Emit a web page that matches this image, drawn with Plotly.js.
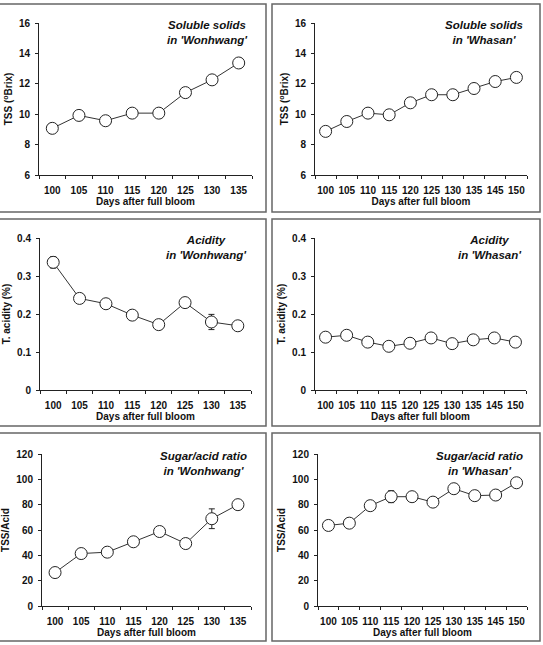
<!DOCTYPE html>
<html>
<head>
<meta charset="utf-8">
<script src="https://cdn.plot.ly/plotly-3.0.1.min.js"></script>
<style>html,body{margin:0;padding:0;background:#fff;}#chart{width:543px;height:645px;}</style>
</head>
<body>
<div id="chart"></div>
<script>
// ---- Data ----
const daysWon = ['100','105','110','115','120','125','130','135'];
const daysWha = ['100','105','110','115','120','125','130','135','145','150'];

const tssWon = [9.07, 9.92, 9.57, 10.07, 10.07, 11.42, 12.26, 13.37];
const tssWonErr = [0, 0, 0, 0, 0, 0.18, 0, 0];
const tssWha = [8.87, 9.52, 10.07, 9.96, 10.75, 11.28, 11.28, 11.69, 12.15, 12.42];
const tssWhaErr = [0, 0, 0, 0, 0, 0, 0, 0, 0, 0];

const acidWon = [0.336, 0.241, 0.227, 0.197, 0.172, 0.230, 0.179, 0.169];
const acidWonErr = [0.015, 0, 0, 0, 0, 0, 0.02, 0];
const acidWha = [0.139, 0.144, 0.126, 0.115, 0.123, 0.137, 0.122, 0.132, 0.137, 0.126];
const acidWhaErr = [0, 0, 0, 0, 0, 0, 0, 0, 0, 0];

const ratioWon = [26.4, 41.4, 42.5, 50.7, 58.8, 49.3, 68.9, 80.0];
const ratioWonErr = [0, 0, 0, 0, 0, 0, 7.8, 0];
const ratioWha = [63.6, 65.4, 79.2, 86.3, 86.3, 82.0, 92.6, 87.1, 87.6, 97.3];
const ratioWhaErr = [3.5, 0, 0, 4.7, 0, 0, 0, 0, 0, 0];

const xTitle = 'Days after full bloom';
const yTitles = ['TSS (<sup>o</sup>Brix)', 'TSS (<sup>o</sup>Brix)', 'T. acidity (%)', 'T. acidity (%)', 'TSS/Acid', 'TSS/Acid'];
const panelLabels = [
  'Soluble solids<br>in \'Wonhwang\'', 'Soluble solids<br>in \'Whasan\'',
  'Acidity<br>in \'Wonhwang\'', 'Acidity<br>in \'Whasan\'',
  'Sugar/acid ratio<br>in \'Wonhwang\'', 'Sugar/acid ratio<br>in \'Whasan\''
];

// ---- Layout geometry (pixels in a 543x645 figure) ----
const W = 543, H = 645;
const plotsPx = [
  {x0: 39, x1: 252, y0: 23, y1: 175},
  {x0: 315, x1: 527, y0: 23, y1: 175},
  {x0: 40, x1: 251, y0: 238, y1: 390},
  {x0: 315, x1: 526, y0: 238, y1: 390},
  {x0: 42, x1: 251, y0: 454, y1: 606},
  {x0: 318, x1: 527, y0: 454, y1: 606}
];
const framesPx = [
  {x0: -2, x1: 266, y0: 4, y1: 212},
  {x0: 272, x1: 540, y0: 4, y1: 212},
  {x0: -2, x1: 266, y0: 219, y1: 426},
  {x0: 272, x1: 540, y0: 219, y1: 426},
  {x0: -2, x1: 266, y0: 433, y1: 641},
  {x0: 272, x1: 540, y0: 433, y1: 641}
];
const yRanges = [[6,16],[6,16],[0,0.4],[0,0.4],[0,120],[0,120]];
const yDtick = [2,2,0.1,0.1,20,20];

const series = [
  {x: daysWon, y: tssWon, e: tssWonErr},
  {x: daysWha, y: tssWha, e: tssWhaErr},
  {x: daysWon, y: acidWon, e: acidWonErr},
  {x: daysWha, y: acidWha, e: acidWhaErr},
  {x: daysWon, y: ratioWon, e: ratioWonErr},
  {x: daysWha, y: ratioWha, e: ratioWhaErr}
];

const FONT = 'Liberation Sans, Arial, Helvetica, sans-serif';
const traces = [];
const layout = {
  width: W, height: H,
  margin: {l: 0, r: 0, t: 0, b: 0},
  paper_bgcolor: '#fff', plot_bgcolor: '#fff',
  showlegend: false,
  font: {family: FONT, color: '#000'},
  shapes: [], annotations: []
};

series.forEach((s, i) => {
  const n = i + 1;
  const xa = n === 1 ? 'x' : 'x' + n;
  const ya = n === 1 ? 'y' : 'y' + n;
  traces.push({
    type: 'scatter', mode: 'lines+markers',
    x: s.x, y: s.y, xaxis: xa, yaxis: ya,
    line: {color: '#333', width: 1},
    marker: {symbol: 'circle', size: 12, color: '#fff', line: {color: '#222', width: 1}},
    error_y: {type: 'data', array: s.e, visible: true, color: '#222', thickness: 1, width: 3},
    cliponaxis: false, hoverinfo: 'skip'
  });
  const p = plotsPx[i];
  const xKey = n === 1 ? 'xaxis' : 'xaxis' + n;
  const yKey = n === 1 ? 'yaxis' : 'yaxis' + n;
  layout[xKey] = {
    domain: [p.x0 / W, p.x1 / W],
    anchor: ya, type: 'category',
    range: [-0.5, s.x.length - 0.5],
    tickson: 'boundaries', ticks: 'outside', ticklen: 3, tickwidth: 1, tickcolor: '#222',
    tickangle: 0, ticklabelstandoff: 6,
    showline: true, linecolor: '#222', linewidth: 1,
    showgrid: false, zeroline: false, fixedrange: true,
    tickfont: {family: FONT, size: 10, weight: 'bold', color: '#111'},
    title: {text: xTitle, font: {family: FONT, size: 10, weight: 'bold', color: '#111'}, standoff: 2},
    automargin: false
  };
  layout[yKey] = {
    domain: [1 - p.y1 / H, 1 - p.y0 / H],
    anchor: xa, range: yRanges[i], dtick: yDtick[i], tick0: 0,
    ticks: 'outside', ticklen: 3, tickwidth: 1, tickcolor: '#222',
    ticklabelstandoff: 3,
    showline: true, linecolor: '#222', linewidth: 1,
    showgrid: false, zeroline: false, fixedrange: true,
    tickfont: {family: FONT, size: 10, weight: 'bold', color: '#111'},
    title: {text: yTitles[i], font: {family: FONT, size: 10, weight: 'bold', color: '#111'}, standoff: 4},
    automargin: false
  };
  layout.annotations.push({
    xref: xa + ' domain', yref: ya + ' domain',
    x: 0.99, y: 1.04, xanchor: 'right', yanchor: 'top', align: 'center',
    text: panelLabels[i], showarrow: false,
    font: {family: FONT, size: 11.5, weight: 'bold', style: 'italic', color: '#111'}
  });
  const f = framesPx[i];
  layout.shapes.push({
    type: 'rect', xref: 'paper', yref: 'paper',
    x0: f.x0 / W, x1: f.x1 / W, y0: 1 - f.y1 / H, y1: 1 - f.y0 / H,
    line: {color: '#666', width: 1.5}, fillcolor: 'rgba(0,0,0,0)', layer: 'below'
  });
});

Plotly.newPlot('chart', traces, layout, {staticPlot: true, displayModeBar: false});
</script>
</body>
</html>
